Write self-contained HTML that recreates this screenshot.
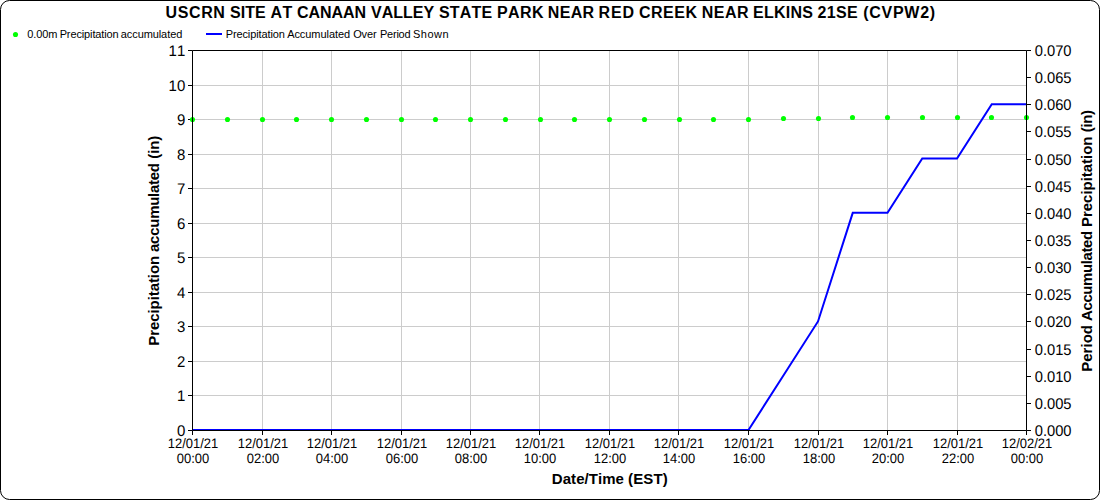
<!DOCTYPE html>
<html><head><meta charset="utf-8"><style>
html,body{margin:0;padding:0;background:#fff;width:1100px;height:500px;overflow:hidden}
svg{display:block}
text{font-family:"Liberation Sans",sans-serif;fill:#000;font-kerning:none}
.t{font-size:15px;text-rendering:geometricPrecision}
.x{font-size:13px;text-rendering:geometricPrecision}
.lg{font-size:11px}
.title{font-size:16px;font-weight:bold}
.ax{font-size:15px;font-weight:bold}
</style></head><body>
<svg width="1100" height="500" viewBox="0 0 1100 500">
<rect width="1100" height="500" fill="#fff"/>
<line x1="192.5" y1="395.50" x2="1026.5" y2="395.50" stroke="#cccccc" stroke-width="1"/>
<line x1="192.5" y1="361.50" x2="1026.5" y2="361.50" stroke="#cccccc" stroke-width="1"/>
<line x1="192.5" y1="326.50" x2="1026.5" y2="326.50" stroke="#cccccc" stroke-width="1"/>
<line x1="192.5" y1="292.50" x2="1026.5" y2="292.50" stroke="#cccccc" stroke-width="1"/>
<line x1="192.5" y1="257.50" x2="1026.5" y2="257.50" stroke="#cccccc" stroke-width="1"/>
<line x1="192.5" y1="223.50" x2="1026.5" y2="223.50" stroke="#cccccc" stroke-width="1"/>
<line x1="192.5" y1="188.50" x2="1026.5" y2="188.50" stroke="#cccccc" stroke-width="1"/>
<line x1="192.5" y1="154.50" x2="1026.5" y2="154.50" stroke="#cccccc" stroke-width="1"/>
<line x1="192.5" y1="119.50" x2="1026.5" y2="119.50" stroke="#cccccc" stroke-width="1"/>
<line x1="192.5" y1="85.50" x2="1026.5" y2="85.50" stroke="#cccccc" stroke-width="1"/>
<line x1="262.50" y1="50.5" x2="262.50" y2="430.5" stroke="#cccccc" stroke-width="1"/>
<line x1="331.50" y1="50.5" x2="331.50" y2="430.5" stroke="#cccccc" stroke-width="1"/>
<line x1="401.50" y1="50.5" x2="401.50" y2="430.5" stroke="#cccccc" stroke-width="1"/>
<line x1="470.50" y1="50.5" x2="470.50" y2="430.5" stroke="#cccccc" stroke-width="1"/>
<line x1="539.50" y1="50.5" x2="539.50" y2="430.5" stroke="#cccccc" stroke-width="1"/>
<line x1="609.50" y1="50.5" x2="609.50" y2="430.5" stroke="#cccccc" stroke-width="1"/>
<line x1="678.50" y1="50.5" x2="678.50" y2="430.5" stroke="#cccccc" stroke-width="1"/>
<line x1="748.50" y1="50.5" x2="748.50" y2="430.5" stroke="#cccccc" stroke-width="1"/>
<line x1="818.50" y1="50.5" x2="818.50" y2="430.5" stroke="#cccccc" stroke-width="1"/>
<line x1="887.50" y1="50.5" x2="887.50" y2="430.5" stroke="#cccccc" stroke-width="1"/>
<line x1="957.50" y1="50.5" x2="957.50" y2="430.5" stroke="#cccccc" stroke-width="1"/>
<line x1="188.0" y1="430.50" x2="192.5" y2="430.50" stroke="#000" stroke-width="1"/>
<text transform="translate(185.3 435.80) scale(1 1.03)" text-anchor="end" class="t">0</text>
<line x1="188.0" y1="395.50" x2="192.5" y2="395.50" stroke="#000" stroke-width="1"/>
<text transform="translate(185.3 400.80) scale(1 1.03)" text-anchor="end" class="t">1</text>
<line x1="188.0" y1="361.50" x2="192.5" y2="361.50" stroke="#000" stroke-width="1"/>
<text transform="translate(185.3 366.80) scale(1 1.03)" text-anchor="end" class="t">2</text>
<line x1="188.0" y1="326.50" x2="192.5" y2="326.50" stroke="#000" stroke-width="1"/>
<text transform="translate(185.3 331.80) scale(1 1.03)" text-anchor="end" class="t">3</text>
<line x1="188.0" y1="292.50" x2="192.5" y2="292.50" stroke="#000" stroke-width="1"/>
<text transform="translate(185.3 297.80) scale(1 1.03)" text-anchor="end" class="t">4</text>
<line x1="188.0" y1="257.50" x2="192.5" y2="257.50" stroke="#000" stroke-width="1"/>
<text transform="translate(185.3 262.80) scale(1 1.03)" text-anchor="end" class="t">5</text>
<line x1="188.0" y1="223.50" x2="192.5" y2="223.50" stroke="#000" stroke-width="1"/>
<text transform="translate(185.3 228.80) scale(1 1.03)" text-anchor="end" class="t">6</text>
<line x1="188.0" y1="188.50" x2="192.5" y2="188.50" stroke="#000" stroke-width="1"/>
<text transform="translate(185.3 193.80) scale(1 1.03)" text-anchor="end" class="t">7</text>
<line x1="188.0" y1="154.50" x2="192.5" y2="154.50" stroke="#000" stroke-width="1"/>
<text transform="translate(185.3 159.80) scale(1 1.03)" text-anchor="end" class="t">8</text>
<line x1="188.0" y1="119.50" x2="192.5" y2="119.50" stroke="#000" stroke-width="1"/>
<text transform="translate(185.3 124.80) scale(1 1.03)" text-anchor="end" class="t">9</text>
<line x1="188.0" y1="85.50" x2="192.5" y2="85.50" stroke="#000" stroke-width="1"/>
<text transform="translate(185.3 90.80) scale(1 1.03)" text-anchor="end" class="t">10</text>
<line x1="188.0" y1="50.50" x2="192.5" y2="50.50" stroke="#000" stroke-width="1"/>
<text transform="translate(185.3 55.80) scale(1 1.03)" text-anchor="end" class="t">11</text>
<line x1="1026.5" y1="430.50" x2="1031.0" y2="430.50" stroke="#000" stroke-width="1"/>
<text transform="translate(1034.7 435.80) scale(0.98 1.03)" class="t">0.000</text>
<line x1="1026.5" y1="403.50" x2="1031.0" y2="403.50" stroke="#000" stroke-width="1"/>
<text transform="translate(1034.7 408.80) scale(0.98 1.03)" class="t">0.005</text>
<line x1="1026.5" y1="376.50" x2="1031.0" y2="376.50" stroke="#000" stroke-width="1"/>
<text transform="translate(1034.7 381.80) scale(0.98 1.03)" class="t">0.010</text>
<line x1="1026.5" y1="349.50" x2="1031.0" y2="349.50" stroke="#000" stroke-width="1"/>
<text transform="translate(1034.7 354.80) scale(0.98 1.03)" class="t">0.015</text>
<line x1="1026.5" y1="321.50" x2="1031.0" y2="321.50" stroke="#000" stroke-width="1"/>
<text transform="translate(1034.7 326.80) scale(0.98 1.03)" class="t">0.020</text>
<line x1="1026.5" y1="294.50" x2="1031.0" y2="294.50" stroke="#000" stroke-width="1"/>
<text transform="translate(1034.7 299.80) scale(0.98 1.03)" class="t">0.025</text>
<line x1="1026.5" y1="267.50" x2="1031.0" y2="267.50" stroke="#000" stroke-width="1"/>
<text transform="translate(1034.7 272.80) scale(0.98 1.03)" class="t">0.030</text>
<line x1="1026.5" y1="240.50" x2="1031.0" y2="240.50" stroke="#000" stroke-width="1"/>
<text transform="translate(1034.7 245.80) scale(0.98 1.03)" class="t">0.035</text>
<line x1="1026.5" y1="213.50" x2="1031.0" y2="213.50" stroke="#000" stroke-width="1"/>
<text transform="translate(1034.7 218.80) scale(0.98 1.03)" class="t">0.040</text>
<line x1="1026.5" y1="186.50" x2="1031.0" y2="186.50" stroke="#000" stroke-width="1"/>
<text transform="translate(1034.7 191.80) scale(0.98 1.03)" class="t">0.045</text>
<line x1="1026.5" y1="159.50" x2="1031.0" y2="159.50" stroke="#000" stroke-width="1"/>
<text transform="translate(1034.7 164.80) scale(0.98 1.03)" class="t">0.050</text>
<line x1="1026.5" y1="131.50" x2="1031.0" y2="131.50" stroke="#000" stroke-width="1"/>
<text transform="translate(1034.7 136.80) scale(0.98 1.03)" class="t">0.055</text>
<line x1="1026.5" y1="104.50" x2="1031.0" y2="104.50" stroke="#000" stroke-width="1"/>
<text transform="translate(1034.7 109.80) scale(0.98 1.03)" class="t">0.060</text>
<line x1="1026.5" y1="77.50" x2="1031.0" y2="77.50" stroke="#000" stroke-width="1"/>
<text transform="translate(1034.7 82.80) scale(0.98 1.03)" class="t">0.065</text>
<line x1="1026.5" y1="50.50" x2="1031.0" y2="50.50" stroke="#000" stroke-width="1"/>
<text transform="translate(1034.7 55.80) scale(0.98 1.03)" class="t">0.070</text>
<line x1="192.50" y1="430.5" x2="192.50" y2="435.0" stroke="#000" stroke-width="1"/>
<text transform="translate(193.00 447.5) scale(1 1.06)" text-anchor="middle" class="x">12/01/21</text>
<text transform="translate(193.00 462.5) scale(1 1.06)" text-anchor="middle" class="x">00:00</text>
<line x1="262.50" y1="430.5" x2="262.50" y2="435.0" stroke="#000" stroke-width="1"/>
<text transform="translate(263.00 447.5) scale(1 1.06)" text-anchor="middle" class="x">12/01/21</text>
<text transform="translate(263.00 462.5) scale(1 1.06)" text-anchor="middle" class="x">02:00</text>
<line x1="331.50" y1="430.5" x2="331.50" y2="435.0" stroke="#000" stroke-width="1"/>
<text transform="translate(332.00 447.5) scale(1 1.06)" text-anchor="middle" class="x">12/01/21</text>
<text transform="translate(332.00 462.5) scale(1 1.06)" text-anchor="middle" class="x">04:00</text>
<line x1="401.50" y1="430.5" x2="401.50" y2="435.0" stroke="#000" stroke-width="1"/>
<text transform="translate(402.00 447.5) scale(1 1.06)" text-anchor="middle" class="x">12/01/21</text>
<text transform="translate(402.00 462.5) scale(1 1.06)" text-anchor="middle" class="x">06:00</text>
<line x1="470.50" y1="430.5" x2="470.50" y2="435.0" stroke="#000" stroke-width="1"/>
<text transform="translate(471.00 447.5) scale(1 1.06)" text-anchor="middle" class="x">12/01/21</text>
<text transform="translate(471.00 462.5) scale(1 1.06)" text-anchor="middle" class="x">08:00</text>
<line x1="539.50" y1="430.5" x2="539.50" y2="435.0" stroke="#000" stroke-width="1"/>
<text transform="translate(540.00 447.5) scale(1 1.06)" text-anchor="middle" class="x">12/01/21</text>
<text transform="translate(540.00 462.5) scale(1 1.06)" text-anchor="middle" class="x">10:00</text>
<line x1="609.50" y1="430.5" x2="609.50" y2="435.0" stroke="#000" stroke-width="1"/>
<text transform="translate(610.00 447.5) scale(1 1.06)" text-anchor="middle" class="x">12/01/21</text>
<text transform="translate(610.00 462.5) scale(1 1.06)" text-anchor="middle" class="x">12:00</text>
<line x1="678.50" y1="430.5" x2="678.50" y2="435.0" stroke="#000" stroke-width="1"/>
<text transform="translate(679.00 447.5) scale(1 1.06)" text-anchor="middle" class="x">12/01/21</text>
<text transform="translate(679.00 462.5) scale(1 1.06)" text-anchor="middle" class="x">14:00</text>
<line x1="748.50" y1="430.5" x2="748.50" y2="435.0" stroke="#000" stroke-width="1"/>
<text transform="translate(749.00 447.5) scale(1 1.06)" text-anchor="middle" class="x">12/01/21</text>
<text transform="translate(749.00 462.5) scale(1 1.06)" text-anchor="middle" class="x">16:00</text>
<line x1="818.50" y1="430.5" x2="818.50" y2="435.0" stroke="#000" stroke-width="1"/>
<text transform="translate(819.00 447.5) scale(1 1.06)" text-anchor="middle" class="x">12/01/21</text>
<text transform="translate(819.00 462.5) scale(1 1.06)" text-anchor="middle" class="x">18:00</text>
<line x1="887.50" y1="430.5" x2="887.50" y2="435.0" stroke="#000" stroke-width="1"/>
<text transform="translate(888.00 447.5) scale(1 1.06)" text-anchor="middle" class="x">12/01/21</text>
<text transform="translate(888.00 462.5) scale(1 1.06)" text-anchor="middle" class="x">20:00</text>
<line x1="957.50" y1="430.5" x2="957.50" y2="435.0" stroke="#000" stroke-width="1"/>
<text transform="translate(958.00 447.5) scale(1 1.06)" text-anchor="middle" class="x">12/01/21</text>
<text transform="translate(958.00 462.5) scale(1 1.06)" text-anchor="middle" class="x">22:00</text>
<line x1="1026.50" y1="430.5" x2="1026.50" y2="435.0" stroke="#000" stroke-width="1"/>
<text transform="translate(1027.00 447.5) scale(1 1.06)" text-anchor="middle" class="x">12/02/21</text>
<text transform="translate(1027.00 462.5) scale(1 1.06)" text-anchor="middle" class="x">00:00</text>
<polyline points="192.50,430.00 227.25,430.00 262.00,430.00 296.75,430.00 331.50,430.00 366.25,430.00 401.00,430.00 435.75,430.00 470.50,430.00 505.25,430.00 540.00,430.00 574.75,430.00 609.50,430.00 644.25,430.00 679.00,430.00 713.75,430.00 748.50,430.00 783.25,375.71 818.00,321.43 852.75,212.86 887.50,212.86 922.25,158.57 957.00,158.57 991.75,104.29 1026.50,104.29" fill="none" stroke="#0000ff" stroke-width="2" stroke-linejoin="miter"/>
<circle cx="192.5" cy="119.5" r="2.55" fill="#00ff00"/>
<circle cx="227.5" cy="119.5" r="2.55" fill="#00ff00"/>
<circle cx="262.5" cy="119.5" r="2.55" fill="#00ff00"/>
<circle cx="296.5" cy="119.5" r="2.55" fill="#00ff00"/>
<circle cx="331.5" cy="119.5" r="2.55" fill="#00ff00"/>
<circle cx="366.5" cy="119.5" r="2.55" fill="#00ff00"/>
<circle cx="401.5" cy="119.5" r="2.55" fill="#00ff00"/>
<circle cx="435.5" cy="119.5" r="2.55" fill="#00ff00"/>
<circle cx="470.5" cy="119.5" r="2.55" fill="#00ff00"/>
<circle cx="505.5" cy="119.5" r="2.55" fill="#00ff00"/>
<circle cx="540.5" cy="119.5" r="2.55" fill="#00ff00"/>
<circle cx="574.5" cy="119.5" r="2.55" fill="#00ff00"/>
<circle cx="609.5" cy="119.5" r="2.55" fill="#00ff00"/>
<circle cx="644.5" cy="119.5" r="2.55" fill="#00ff00"/>
<circle cx="679.5" cy="119.5" r="2.55" fill="#00ff00"/>
<circle cx="713.5" cy="119.5" r="2.55" fill="#00ff00"/>
<circle cx="748.5" cy="119.5" r="2.55" fill="#00ff00"/>
<circle cx="783.5" cy="118.5" r="2.55" fill="#00ff00"/>
<circle cx="818.5" cy="118.5" r="2.55" fill="#00ff00"/>
<circle cx="852.5" cy="117.5" r="2.55" fill="#00ff00"/>
<circle cx="887.5" cy="117.5" r="2.55" fill="#00ff00"/>
<circle cx="922.5" cy="117.5" r="2.55" fill="#00ff00"/>
<circle cx="957.5" cy="117.5" r="2.55" fill="#00ff00"/>
<circle cx="991.5" cy="117.5" r="2.55" fill="#00ff00"/>
<circle cx="1026.5" cy="117.5" r="2.55" fill="#00ff00"/>
<path d="M192.5 50.5H1026.5V430.5H192.5Z" fill="none" stroke="#000" stroke-width="1"/>
<text y="18" class="title"><tspan x="165.56" letter-spacing="0.606">USCRN</tspan><tspan x="229.92" letter-spacing="0.093">SITE</tspan><tspan x="270.59" letter-spacing="0.290">AT</tspan><tspan x="297.10" letter-spacing="-0.076">CANAAN</tspan><tspan x="370.95" letter-spacing="0.040">VALLEY</tspan><tspan x="438.92" letter-spacing="0.177">STATE</tspan><tspan x="496.91" letter-spacing="0.445">PARK</tspan><tspan x="547.79" letter-spacing="0.352">NEAR</tspan><tspan x="598.40" letter-spacing="1.000">RED</tspan><tspan x="638.88" letter-spacing="0.533">CREEK</tspan><tspan x="701.79" letter-spacing="0.492">NEAR</tspan><tspan x="753.00" letter-spacing="0.237">ELKINS</tspan><tspan x="817.47" letter-spacing="0.345">21SE</tspan><tspan x="863.30" letter-spacing="0.703">(CVPW2)</tspan></text>
<text y="484" class="ax"><tspan x="551.82" letter-spacing="0.056">Date/Time</tspan><tspan x="628.10" letter-spacing="0.110">(EST)</tspan></text>
<text transform="translate(158.5 0) rotate(-90)" class="ax"><tspan x="-345.71" letter-spacing="-0.083">Precipitation</tspan><tspan x="-251.99" letter-spacing="-0.269">accumulated</tspan><tspan x="-158.63" letter-spacing="-0.188">(in)</tspan></text>
<text transform="translate(1091.5 0) rotate(-90)" class="ax"><tspan x="-371.86" letter-spacing="0.041">Period</tspan><tspan x="-320.98" letter-spacing="-0.407">Accumulated</tspan><tspan x="-227.01" letter-spacing="-0.036">Precipitation</tspan><tspan x="-132.26" letter-spacing="-0.320">(in)</tspan></text>
<circle cx="15.5" cy="34.5" r="2.55" fill="#00ff00"/>
<text y="37.8" class="lg"><tspan x="27.25" letter-spacing="-0.087">0.00m</tspan><tspan x="59.66" letter-spacing="-0.122">Precipitation</tspan><tspan x="120.77" letter-spacing="-0.086">accumulated</tspan></text>
<line x1="206" y1="34" x2="222" y2="34" stroke="#0000ff" stroke-width="2"/>
<text y="37.8" class="lg"><tspan x="225.66" letter-spacing="-0.107">Precipitation</tspan><tspan x="287.15" letter-spacing="-0.056">Accumulated</tspan><tspan x="353.21" letter-spacing="-0.158">Over</tspan><tspan x="380.04" letter-spacing="-0.244">Period</tspan><tspan x="412.92" letter-spacing="0.532">Shown</tspan></text>
<rect x="0.5" y="0.5" width="1099" height="499" rx="9" ry="9" fill="none" stroke="#000" stroke-width="1"/>
</svg>
</body></html>
